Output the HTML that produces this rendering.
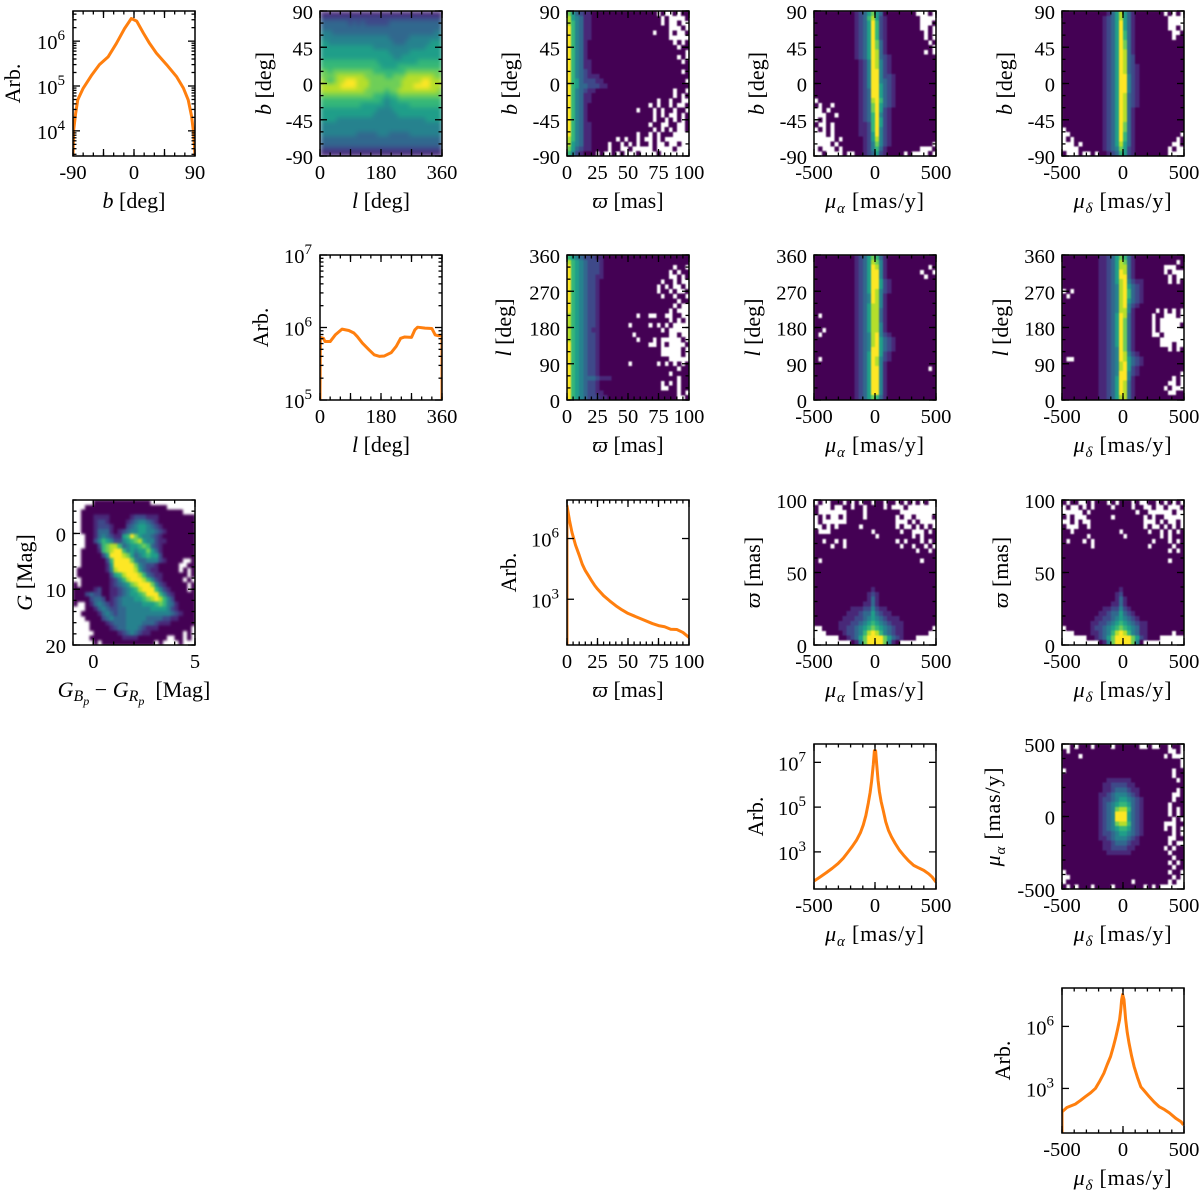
<!DOCTYPE html>
<html lang="en">
<head>
<meta charset="utf-8">
<title>Gaia corner plot</title>
<style>
html,body{margin:0;padding:0;background:#fff}
svg{display:block}
text{font-family:"Liberation Serif","DejaVu Serif",serif;font-size:20.5px;fill:#000}
</style>
</head>
<body>
<svg id="chart" xmlns="http://www.w3.org/2000/svg" width="1200" height="1197" viewBox="0 0 1200 1197"></svg>
<script>
// ---------- line series ----------
const arbLatX=[-90,-89,-86,-83,-75,-63,-51,-38,-26,-14,-4,4,14,23,33,48,63,73,80,85,88,90];
const arbLatY=[2.8e3,1.05e4,2.5e4,4.9e4,8.9e4,1.7e5,3e5,4.5e5,8.9e5,1.9e6,3.2e6,2.8e6,1.5e6,8.9e5,5.4e5,3e5,1.6e5,8.9e4,4.9e4,2.1e4,8.9e3,2.8e3];
const arbLonX=[0,1,10,15,30,45,65,85,100,110,125,145,160,175,190,210,225,238,250,270,280,288,310,330,340,350,360,360];
const arbLonY=[1e5,7.3e5,7.1e5,6.4e5,6.4e5,7.9e5,9.5e5,9.1e5,8.4e5,7.5e5,6.1e5,4.9e5,4.2e5,4.0e5,4.05e5,4.5e5,5.5e5,7.1e5,7.4e5,7.3e5,9.3e5,1.01e6,9.8e5,9.7e5,7.9e5,7.7e5,7.9e5,1e5];
const arbPlxX=[0,0,2,4,7,10,12.5,15,17.5,20,22.5,25,30,35,40,45,50,55,60,70,75,80,85,90,95,100];
const arbPlxY=[5,4.1e7,8.1e6,2.1e6,4.7e5,1.5e5,5.4e4,2.6e4,1.5e4,8.5e3,5e3,3.2e3,1.5e3,830,480,300,200,150,112,63,50,44,33,32,23,13];
const arbPmaX=[-500,-450,-400,-350,-303,-260,-220,-185,-152,-120,-96,-75,-55,-40,-28,-14,-5,5,14,25,36,50,69,88,110,135,165,200,234,275,317,360,400,440,468,500];
const arbPmaY=[50,76,117,186,300,525,1000,1800,3300,7100,1.6e4,4.2e4,1.5e5,4.5e5,1.4e6,7.9e6,3.3e7,3.3e7,7.9e6,1.6e6,5e5,1.8e5,6.5e4,2.2e4,9.3e3,4700,2400,1200,710,400,250,190,150,105,76,45];
const arbPmdX=[-500,-500,-460,-391,-350,-309,-265,-226,-190,-157,-130,-102,-80,-61,-45,-28,-18,-11,-3,8,15,22,35,50,70,91,118,146,180,215,255,298,340,380,435,477,496];
const arbPmdY=[5,74,120,174,260,400,620,1000,2300,5400,1.4e4,3.5e4,1e5,2.7e5,7e5,2.1e6,6.5e6,2e7,3.5e7,2e7,6.5e6,2.1e6,5e5,1.5e5,3.8e4,1.15e4,3.5e3,1200,700,400,220,129,95,66,35,24,17];

// ---------- heatmaps: rows top to bottom, '.' = empty bin, 0-9 = level ----------
const heatBL=[
"11111 11111 11111 11111 11111 11111","22222 22222 22222 22222 22222 22222",
"33333 33232 32222 22333 33333 33333","33333 33333 33333 33333 33333 33333",
"44433 33333 33333 33333 33333 33344","44444 44444 44444 44333 33444 44444",
"55444 44444 44444 44433 34444 44555","55555 55555 55544 44444 44444 45555",
"55555 55555 55555 55444 44555 55555","55555 55555 55555 55544 55555 55555",
"66666 66666 66665 55555 55556 66666","66666 66666 66666 55556 66666 66666",
"77677 77777 77766 66666 67777 77777","77778 88888 87777 76677 78888 88877",
"87678 89998 88777 77777 88888 99888","88888 99998 88777 77777 88899 99888",
"88888 88888 87777 76778 88888 88887","77777 77777 77766 65667 77777 77777",
"66666 66666 66666 54556 66666 66666","66666 66666 55555 54555 55666 66666",
"55555 55555 55554 44455 55555 55555","55555 55555 55544 44445 55555 55555",
"55554 44444 44444 44444 44444 45555","44444 44444 44444 44444 44444 44444",
"44444 44444 44444 44444 44444 44444","44444 44443 33334 44333 33444 44444",
"33333 33333 33333 33333 33333 33333","33333 33333 33333 33333 33333 33333",
"22222 22222 22222 22222 22222 22222","11111 11111 11111 11111 11111 11111"];
const heatBPlx=[
"75321 10000 00000 00000 00.0. .0.00","85431 10000 00000 00000 000.0 ....0",
"86431 10000 00000 00000 000.0 ..0..","96431 10000 00000 00000 00000 ...0.",
"96431 10000 00000 00000 0.000 .0..0","96431 10000 00000 00000 00000 .....",
"96431 00000 00000 00000 00000 0.0.0","96431 00000 00000 00000 00000 00.00",
"96431 00000 00000 00000 00000 0000.","96431 00000 00000 00000 00000 00.0.",
"96431 10000 00000 00000 00000 000.0","96431 10000 00000 00000 00000 00000",
"96432 10000 00000 00000 00000 000.0","96432 11100 00000 00000 00000 00000",
"96532 22110 00000 00000 00000 0000.","96533 22211 00000 00000 00000 00000",
"96432 11000 00000 00000 00000 0.00.","96431 10000 00000 00000 00000 0.0.0",
"96431 10000 00000 00000 00.00 .00..","96431 00000 00000 00000 .0.00 .0..0",
"96431 00000 00000 00.00 0.0.0 0.00.","96431 00000 00000 00000 0.0.0 ..0.0",
"96431 00000 00000 00000 0.00. 0.0.0","96431 10000 00000 00000 .00.. 00..0",
"96431 10000 00000 00000 0.0.0 .0..0","96431 10000 00000 00.00 .0.00 0....",
"86431 10000 00.0. 00.0. .0.0. .....","85431 10000 .00.0 .0.00 .0..0 ..0..",
"75321 10000 .00.. 0.... .0... .0...","64210 00.0. .0.0. ..0.. ..0.. ....."];
const heatBPma=[
"00000 00000 12357 53000 00000 ...0.","00000 00000 12368 52100 00000 0....",
"00000 00000 12359 62100 00000 0...0","00000 00000 12359 62100 00000 0..0.",
"00000 00000 12359 62100 00000 00.0.","00000 00000 12359 62100 00000 00.0.",
"00000 00000 12359 73100 00000 000.0","00000 00000 12359 73100 00000 0000.",
"00000 00000 12359 83100 00000 00.0.","00000 00000 12359 83210 00000 00000",
"00000 00000 01249 84210 00000 00000","00000 00000 01249 84210 00000 00000",
"00000 00000 01249 94210 00000 00000","00000 00000 01249 94221 00000 00000",
"00000 00000 01249 94321 00000 00000","00000 00000 01249 95321 00000 00000",
"00000 00000 01239 95321 00000 00000","00000 00000 01239 95321 00000 00000",
".0000 00000 01238 96321 00000 00000","0.00. 00000 01237 95321 00000 00000",
"..0.0 00000 01237 95210 00000 00000","...00 .0000 01236 94210 00000 00000",
".0.00 00000 01236 95210 00000 00000","0..0. 00000 01126 95210 00000 00000",
".0.0. 00000 01126 94210 00000 00000","...0. 00000 01125 94210 00000 00000",
"..... 0.000 00125 84210 00000 00000","....0 .0000 00124 74210 00000 0000.",
".0... 0.000 00124 63100 00000 0...0","..0.. ..0.. 00123 52100 00.0. ...0."];
const heatBPmd=[
"00000 00000 01358 53100 00000 .0.0.","00000 00000 12358 53100 00000 0....",
"00000 00000 12359 53100 00000 0....","00000 00000 12359 53100 00000 0..0.",
"00000 00000 12359 63100 00000 00..0","00000 00000 12359 63100 00000 00.00",
"00000 00000 12359 73100 00000 00000","00000 00000 12359 73100 00000 00000",
"00000 00000 12359 83100 00000 00000","00000 00000 12359 83200 00000 00000",
"00000 00000 12359 83200 00000 00000","00000 00000 12359 83210 00000 00000",
"00000 00000 12359 83210 00000 00000","00000 00000 12359 94210 00000 00000",
"00000 00000 12359 94210 00000 00000","00000 00000 12359 94210 00000 00000",
"00000 00000 12359 94210 00000 00000","00000 00000 12359 83210 00000 00000",
"00000 00000 12359 83210 00000 00000","00000 00000 12359 83210 00000 00000",
"00000 00000 12359 83100 00000 00000","00000 00000 12359 83100 00000 00000",
"00000 00000 12359 83100 00000 00000","00000 00000 12359 73100 00000 00000",
".0000 00000 12359 73100 00000 00000","..000 00000 12359 63100 00000 0000.",
".0.00 00000 12359 63100 00000 000.0","...0. 00000 12358 53100 00000 00..0",
"....0 00000 12347 52100 00000 0.0..","0...0 ..0.0 01236 52100 00000 0...."];
const heatLPlx=[
"65432 22110 00000 00000 00000 00000","86543 22210 00000 00000 00000 00000",
"96543 22210 00000 00000 00000 0.00.","96543 22210 00000 00000 00000 .0.00",
"96543 22110 00000 00000 00000 ..0.0","96543 22100 00000 00000 000.0 0.0..",
"96543 22100 00000 00000 00.0. 0..0.","96543 22100 00000 00000 00.00 .0..0",
"96543 22100 00000 00000 000.0 0.00.","96543 22100 00000 00000 00000 00.00",
"96543 22100 00000 00000 00000 0.0..","96543 22100 00000 00000 00000 .0...",
"86543 22100 00000 00.00 ..00. .00..","86543 22100 00000 00000 00000 .0.0.",
"86543 22100 00000 .0000 .0.0. 0....","86543 21100 00000 00000 000.0 .....",
"86543 22100 00000 0.000 00000 ..0..","86543 22100 00000 00.00 0.0.. ...0.",
"96543 22100 00000 00000 ..0.0 ....0","96543 22100 00000 00000 000.. ...0.",
"96543 22100 00000 00000 000.. ...0.","96543 22100 00000 00000 00000 .....",
"96543 22100 00000 .0000 00.0. 0.0.0","96543 22100 00000 00000 00000 00.00",
"96543 22100 00000 00000 00000 .0000","96543 33211 10000 00000 00000 00.00",
"96543 22100 00000 00000 000.0 .0.00","96543 22100 00000 00000 000.. 00.00",
"96543 22110 00000 00000 00000 00.0.","96543 22211 00000 00000 00000 00..0"];
const heatLPma=[
"00000 00000 12357 63100 00000 00000","00000 00000 12358 74100 00000 00000",
"00000 00000 12359 84100 00000 000.0","00000 00000 12359 94100 00000 0.00.",
"00000 00000 12359 94100 00000 00.00","00000 00000 12359 95210 00000 00000",
"00000 00000 12359 95210 00000 00000","00000 00000 12359 84210 00000 00000",
"00000 00000 12349 84100 00000 00000","00000 00000 12349 84100 00000 00000",
"00000 00000 12358 84100 00000 00000","00000 00000 12358 83100 00000 00000",
"0.000 00000 12358 83100 00000 00000","00000 00000 12358 83100 00000 00000",
"00000 00000 12358 84100 00000 00000","00.00 00000 12358 84100 00000 00000",
"0.000 00000 12348 94210 00000 00000","00000 00000 12348 95321 00000 00000",
"00000 00000 12348 95321 00000 00000","00000 00000 12349 95321 00000 00000",
"00000 00000 12359 95210 00000 00000","0.000 00000 12359 84210 00000 00000",
"00000 00000 12359 84100 00000 00000","00000 00000 12359 94100 00000 000.0",
"00000 00000 12359 94100 00000 00000","00000 00000 12359 94100 00000 00000",
"00000 00000 12359 94100 00000 00000","00000 00000 12359 94100 00000 00000",
"00000 00000 12359 94100 00000 00000","00000 00000 12357 63100 00000 00000"];
const heatLPmd=[
"00000 00001 12357 63100 00000 00000","00000 00001 12358 73100 00000 000.0",
"00000 00001 12358 83100 00000 ...00","00000 00001 12359 83100 00000 .0...",
"00000 00001 12359 93100 00000 0.0..","00000 00001 12358 94211 00000 0.0.0",
"00000 00001 12348 95321 00000 00000",".0.00 00001 12348 96321 00000 00000",
"0.000 00001 12348 96321 00000 00000","00000 00001 12348 95321 00000 00000",
"00000 00001 12348 94210 00000 00000","00000 00001 12348 84100 000.0 .0.0.",
"00000 00001 12359 83100 00.00 ...0.","00000 00001 12359 73100 00.0. .....",
"00000 00001 12359 73100 00.0. ....0","00000 00001 12359 73100 00.0. .....",
"00000 00001 12359 73100 00..0 .....","00000 00001 12359 73100 0000. .....",
"00000 00001 12359 73100 0000. ..0..","00000 00001 12349 73100 00000 0.0.0",
"00000 00001 12349 84210 00000 00000","0..00 00001 12349 85321 00000 00000",
"00000 00001 12348 95321 00000 00000","00000 00001 12348 95210 00000 00000",
"00000 00001 12349 94210 00000 0000.","00000 00001 12359 94100 00000 00.0.",
"00000 00001 12359 83100 00000 0..0.","00000 00001 12359 83100 00000 .0...",
"00000 00001 12359 83100 00000 0..00","00000 00001 12358 83100 00000 00000"];
const heatGColor=[
"..... 00000 00000 0000. ..... .....","...00 00000 00000 00000 000.. .....",
"..000 00000 00000 00000 00000 00...","..000 11110 00001 22211 10000 00000",
"..000 12210 00012 34432 10000 00000","..000 12221 00023 45543 21000 00000",
"..000 13331 01234 45544 32100 00000","...00 13432 11569 75443 21000 00000",
"...00 24654 22456 78544 21100 00000","...00 02678 86345 56763 21000 00000",
"..000 01678 99645 45575 31000 00000","..000 00259 99875 34565 52000 00000",
"..000 00026 99997 43344 42100 00..0","..000 00015 99999 74322 10000 0..00",
".0000 00014 89999 85321 10000 0.0.0",".0000 00002 56899 98632 11000 000.0",
"..000 00001 24689 99864 21000 00.0.","0.000 00001 23457 89997 42100 000.0",
"00000 12001 12345 68999 64210 000.0","00023 22001 12345 56799 96421 00000",
"00002 33201 23444 55678 98642 00000","0..01 34321 23444 44555 67643 10000",
"...00 13432 23344 44445 55542 10000","..000 01343 23344 44444 44443 21000",
"...00 00234 33344 44433 33221 10000","....0 00012 33344 44333 21110 00000",
"....0 00001 23344 43211 10000 0000.","..... 00000 01234 32110 00000 00.0.",
"....0 00000 00111 10000 000.. 00.0.","..... 0.000 00000 00000 .0... .0..."];
const heatPlxPma=[
".0..0 00.0. 0.00. 00.00 .0.0. 0.0..","0...0 ..00. 00.00 00.0. ..0.. .....",
"0.... ...00 00.00 00000 0.... .....",".0.0. .0.00 00.00 00000 .0..0 ....0",
".0... ...00 00000 00000 ...0. 0....","..0.0 .0000 0.000 00000 .0..0 .0.0.",
"0...0 00000 0000. 00000 0.00. ..0.0","00000 00000 00000 .0000 0000. 0.000",
"00.00 .0.00 00000 00000 .0.00 0.0.0","0000. 00.00 00000 00000 0.00. 00.0.",
"00000 00000 00000 00000 00000 .00.0","00000 00000 00000 00000 00000 00000",
"0.000 00000 00000 00000 00000 0.000","00000 00000 00000 00000 00000 00000",
"00000 00000 00000 00000 00000 00000","00000 00000 00000 00000 00000 00000",
"00000 00000 00000 00000 00000 00000","00000 00000 00000 00000 00000 00000",
"00000 00000 00001 00000 00000 00000","00000 00000 00012 10000 00000 00000",
"00000 00000 00013 10000 00000 00000","00000 00000 00113 10000 00000 00000",
"00000 00001 11224 21100 00000 00000","00000 00011 12335 32110 00000 00000",
"00000 00111 22345 43211 10000 00000","00000 01112 23456 54321 11000 00000",
"..000 01122 34567 65432 11000 0000.","...00 00122 34689 86432 11000 000..",
"..... .0012 35799 99753 21000 .....","..... ....0 14799 99741 0.... ....."];
const heatPlxPmd=[
"0.00. .0.00 0.0.0 00.0. .00.0 .0.0.",".0..0 .0.00 00.00 00.00 ..0.. 0...0",
"..... 0.000 00000 000.0 0.... ..0..","0.0.. .0000 00.00 00000 .0.00 .....",
"..0.0 ..000 00000 00000 ...0. 0..0.","0...0 0.000 00000 00000 .0..0 .0.0.",
"00.00 00000 0000. 00000 0.00. 0.0.0","00000 0.000 00000 .0000 0000. 0.000",
"0.000 .0.00 00000 00000 00.00 0.0.0","00000 00.00 00000 00000 0.000 00.00",
"00000 00000 00000 00000 00000 0.0.0","00000 00000 00000 00000 00000 00000",
"00000 00000 00000 00000 00000 0.000","00000 00000 00000 00000 00000 00000",
"00000 00000 00000 00000 00000 00000","00000 00000 00000 00000 00000 00000",
"00000 00000 00000 00000 00000 00000","00000 00000 00000 00000 00000 00000",
"00000 00000 00001 00000 00000 00000","00000 00000 00012 00000 00000 00000",
"00000 00000 00013 10000 00000 00000","00000 00000 00113 10000 00000 00000",
"00000 00000 11224 21000 00000 00000","00000 00001 12335 32100 00000 00000",
"00000 00011 22345 43210 00000 00000","00000 00112 23456 54321 10000 00000",
".0000 00122 34567 65431 10000 00000","...00 00112 34689 86431 10000 00.00",
"..... .0012 35799 99752 1000. .....","..... ....0 14799 99740 ..... ....."];
const heatPmaPmd=[
"..0.0 00.00 00.00 0000. .0..0 0.00.","0.000 00000 00000 00000 00000 0..0.",
"0000. 00000 00000 00000 00000 .0...","00000 00000 00000 00000 00000 0000.",
"00000 00000 00000 00000 00000 0000.",".0000 00000 00000 00000 00000 00.00",
"00000 00000 00000 00000 00000 00.00","00000 00000 01111 11000 00000 000.0",
"00000 00000 11222 21100 00000 00000","00000 00000 11233 32110 00000 000.0",
"00000 00001 12344 43210 00000 00..0","00000 00001 22345 54321 00000 00.00",
"00000 00001 23456 65321 00000 0.000","00000 00001 23478 86321 00000 0.0.0",
"00000 00001 23499 95321 00000 0.0.0","00000 00001 23499 95321 00000 00.0.",
"00000 00001 23478 86321 00000 ...00","00000 00001 23456 65321 00000 .0.0.",
"00000 00001 22345 54321 00000 00.0.","00000 00001 12344 43210 00000 0..00",
"00000 00000 11233 32110 00000 0.0..","00000 00000 11222 21100 00000 .0.00",
"00000 00000 01111 11000 00000 0.000","00000 00000 00000 00000 00000 00.00",
"00000 00000 00000 00000 00000 0.0.0","00000 00000 00000 00000 00000 00.00",
".0000 00000 00000 00000 00000 0.00.","..000 00000 00000 00000 00000 00.0.",
".0000 00000 00000 00.00 00000 0.0..","0.0.0 00.00 00.00 00000 .0.0. ....."];

// ---------- tick labels ----------
const ticksLat=[-90,0,90];
const ticksLatY=[-90,-45,0,45,90];
const ticksLon=[0,180,360];
const ticksLonY=[0,90,180,270,360];
const ticksPlxX=[0,25,50,75,100];
const ticksPlxY=[0,50,100];
const ticksPm=[-500,0,500];
const ticksColor=[0,5];
const ticksMag=[0,10,20];

// ---------- colour levels ----------
const viridis=["#440154","#482878","#3e4989","#31688e","#26828e","#1f9e89","#35b779","#6ece58","#b5de2b","#fde725"];

// ---------- axis label text ----------
const lbLat=[["b","i"],[" [deg]",""]];
const lbLon=[["l","i"],[" [deg]",""]];
const lbPlx=[["ϖ","i"],[" [mas]",""]];
const lbPma=[["μ","i"],["α","sub"],[" [mas/y]",""]];
const lbPmd=[["μ","i"],["δ","sub"],[" [mas/y]",""]];
const lbArb=[["Arb.",""]];
const lbG=[["G","i"],[" [Mag]",""]];
const lbColor=[["G","i"],["B","subi"],["p","subsub"],[" − ",""],["G","i"],["R","subi"],["p","subsub"],["  [Mag]",""]];

const axLat={dom:[-90,90],major:45,minor:15,labels:ticksLat,title:lbLat};
const axLatY={dom:[-90,90],major:45,minor:15,labels:ticksLatY,title:lbLat};
const axLon={dom:[0,360],major:90,minor:30,labels:ticksLon,title:lbLon};
const axLonY={dom:[0,360],major:90,minor:30,labels:ticksLonY,title:lbLon};
const axPlx={dom:[0,100],major:25,minor:5,labels:ticksPlxX,title:lbPlx};
const axPlxY={dom:[0,100],major:50,minor:10,labels:ticksPlxY,title:lbPlx};
const axPma={dom:[-500,500],major:500,minor:100,labels:ticksPm,title:lbPma,spacing:0.8};
const axPmd={dom:[-500,500],major:500,minor:100,labels:ticksPm,title:lbPmd,spacing:0.8};
const axColor={dom:[-1,5],major:5,minor:1,labels:ticksColor,title:lbColor};
const axMag={dom:[20,-6],major:10,minor:2,labels:ticksMag,title:lbG};
function logAxis(lo,hi,decades,minors){return {log:true,dom:[lo,hi],decades:decades,minors:minors,title:lbArb};}

const colLeft=[73,320,567,814,1062];
const rowTop=[11,255,500,744,988];
const W=122,H=145;
const svg=document.getElementById('chart');
const NS='http://www.w3.org/2000/svg';

function mk(parent,tag,attrs){
  const e=document.createElementNS(NS,tag);
  for(const k in attrs)e.setAttribute(k,attrs[k]);
  parent.appendChild(e);
  return e;
}
function runs(t,list,base){
  let off=0;
  list.forEach(function(r){
    const s=mk(t,'tspan',{});
    
    
    let target=0,size=base;
    if(r[1]==='i'){s.setAttribute('font-style','italic');}
    if(r[1]==='sub'){target=5;size=15;s.setAttribute('font-style','italic');}
    if(r[1]==='subi'){target=4;size=16;s.setAttribute('font-style','italic');}
    if(r[1]==='subsub'){target=8;size=12;s.setAttribute('font-style','italic');}
    if(target!==off)s.setAttribute('dy',target-off);
    off=target;
    s.setAttribute('font-size',size);
    s.style.whiteSpace='pre';
    s.textContent=r[0];
  });
}
function scaleOf(ax,p0,p1){
  if(ax.log){
    const a=Math.log10(ax.dom[0]),b=Math.log10(ax.dom[1]);
    return function(v){return p0+(Math.log10(v)-a)/(b-a)*(p1-p0);};
  }
  return function(v){return p0+(v-ax.dom[0])/(ax.dom[1]-ax.dom[0])*(p1-p0);};
}
function linearTicks(ax,step){
  const lo=Math.min(ax.dom[0],ax.dom[1]),hi=Math.max(ax.dom[0],ax.dom[1]),out=[];
  for(let k=Math.ceil(lo/step-1e-9);k*step<=hi+1e-9;k++)out.push(k*step);
  return out;
}
function panel(o){
  const left=colLeft[o.col],top=rowTop[o.row],right=left+W,bottom=top+H;
  const g=mk(svg,'g',{});
  
  
  const sx=scaleOf(o.x,left,right),sy=scaleOf(o.y,bottom,top);
  const clipId='clip-'+o.name;
  const cp=mk(g,'clipPath',{id:clipId});
  mk(cp,'rect',{x:left,y:top,width:W,height:H});

  if(o.heat){
    const rows=o.heat.map(function(r){return r.replace(/ /g,'');});
    const nr=rows.length;
    const fid='soft-'+o.name;
    const f=mk(g,'filter',{id:fid,filterUnits:'userSpaceOnUse',x:left,y:top,width:W,height:H,'color-interpolation-filters':'sRGB'});
    mk(f,'feGaussianBlur',{stdDeviation:o.blur||0.8,edgeMode:'duplicate'});
    const outer=mk(g,'g',{'clip-path':'url(#'+clipId+')'});
    
    
    const hg=mk(outer,'g',{'shape-rendering':'crispEdges',filter:'url(#'+fid+')'});
    
    
    rows.forEach(function(row,i){
      const nc=30;
      for(let j=0;j<nc;j++){
        const ch=row.charAt(j);
        if(ch==='.'||ch==='')continue;
        const fx0=o.x.dom[0]+(o.x.dom[1]-o.x.dom[0])*j/nc;
        const fx1=o.x.dom[0]+(o.x.dom[1]-o.x.dom[0])*(j+1)/nc;
        const fy0=o.y.dom[1]+(o.y.dom[0]-o.y.dom[1])*i/nr;
        const fy1=o.y.dom[1]+(o.y.dom[0]-o.y.dom[1])*(i+1)/nr;
        const c=mk(hg,'rect',{x:sx(fx0),y:sy(fy0),width:sx(fx1)-sx(fx0)+0.4,height:sy(fy1)-sy(fy0)+0.4,fill:viridis[+ch]});
        
        
      }
    });
  }
  if(o.lineX){
    const pts=o.lineX.map(function(v,i){return sx(v).toFixed(2)+','+sy(o.lineY[i]).toFixed(2);}).join(' ');
    const pl=mk(g,'polyline',{points:pts,fill:'none',stroke:'#ff7f0e','stroke-width':3,'stroke-linejoin':'round','clip-path':'url(#'+clipId+')'});
    
    
  }

  // ticks
  const tg=mk(g,'g',{stroke:'#000','stroke-width':1.3,fill:'none'});
  
  
  function xTick(v,len){
    const p=sx(v);
    mk(tg,'line',{x1:p,x2:p,y1:bottom,y2:bottom-len});
    mk(tg,'line',{x1:p,x2:p,y1:top,y2:top+len});
  }
  function yTick(v,len){
    const p=sy(v);
    mk(tg,'line',{x1:left,x2:left+len,y1:p,y2:p});
    mk(tg,'line',{x1:right,x2:right-len,y1:p,y2:p});
  }
  linearTicks(o.x,o.x.minor).forEach(function(v){xTick(v,3.5);});
  linearTicks(o.x,o.x.major).forEach(function(v){xTick(v,7);});
  if(o.y.log){
    o.y.decades.forEach(function(d){yTick(Math.pow(10,d),7);});
    if(o.y.minors){
      const lo=Math.floor(Math.log10(o.y.dom[0])),hi=Math.ceil(Math.log10(o.y.dom[1]));
      for(let d=lo;d<hi;d++)for(let m=2;m<10;m++){
        const v=m*Math.pow(10,d);
        if(v>=o.y.dom[0]&&v<=o.y.dom[1])yTick(v,3.5);
      }
    }
  }else{
    linearTicks(o.y,o.y.minor).forEach(function(v){yTick(v,3.5);});
    linearTicks(o.y,o.y.major).forEach(function(v){yTick(v,7);});
  }
  const spine=mk(g,'rect',{x:left,y:top,width:W,height:H,fill:'none',stroke:'#000','stroke-width':1.5});
  
  

  // tick labels
  o.x.labels.forEach(function(v){
    const t=mk(g,'text',{x:sx(v),y:bottom+23,'text-anchor':'middle'});
    
    
    t.textContent=String(v);
  });
  if(o.y.log){
    o.y.decades.forEach(function(d){
      const t=mk(g,'text',{x:left-8,y:sy(Math.pow(10,d))+8,'text-anchor':'end'});
      
      
      const a=mk(t,'tspan',{});
      
      
      a.textContent='10';
      const b=mk(t,'tspan',{dy:-9,'font-size':15});
      
      
      b.textContent=String(d);
    });
  }else{
    o.y.labels.forEach(function(v){
      const t=mk(g,'text',{x:left-7,y:sy(v)+8,'text-anchor':'end'});
      
      
      t.textContent=String(v);
    });
  }

  // axis titles
  const xt=mk(g,'text',{x:left+W/2+(o.xShift||0),y:bottom+(o.xTitleY||52),'text-anchor':'middle','font-size':22});
  
  
  if(o.x.spacing)xt.setAttribute('letter-spacing',o.x.spacing);
  runs(xt,o.x.title,22);
  const yx=left-o.yTitle,yy=top+H/2;
  const yt=mk(g,'text',{x:yx,y:yy,'text-anchor':'middle','font-size':22,transform:'rotate(-90 '+yx+' '+yy+')'});
  
  
  if(o.y.spacing)yt.setAttribute('letter-spacing',o.y.spacing);
  runs(yt,o.y.title,22);
}

panel({name:'hist-latitude',col:0,row:0,x:axLat,y:logAxis(2.75e3,4.7e6,[4,5,6],true),lineX:arbLatX,lineY:arbLatY,yTitle:53});
panel({name:'heat-lat-vs-lon',col:1,row:0,x:axLon,y:axLatY,heat:heatBL,blur:2.4,yTitle:49});
panel({name:'heat-lat-vs-parallax',col:2,row:0,x:axPlx,y:axLatY,heat:heatBPlx,yTitle:50});
panel({name:'heat-lat-vs-pmra',col:3,row:0,x:axPma,y:axLatY,heat:heatBPma,yTitle:50});
panel({name:'heat-lat-vs-pmdec',col:4,row:0,x:axPmd,y:axLatY,heat:heatBPmd,yTitle:50});

panel({name:'hist-longitude',col:1,row:1,x:axLon,y:logAxis(1e5,1e7,[5,6,7],true),lineX:arbLonX,lineY:arbLonY,yTitle:52});
panel({name:'heat-lon-vs-parallax',col:2,row:1,x:axPlx,y:axLonY,heat:heatLPlx,yTitle:56});
panel({name:'heat-lon-vs-pmra',col:3,row:1,x:axPma,y:axLonY,heat:heatLPma,yTitle:54});
panel({name:'heat-lon-vs-pmdec',col:4,row:1,x:axPmd,y:axLonY,heat:heatLPmd,yTitle:54});

panel({name:'heat-hr-diagram',col:0,row:2,x:axColor,y:axMag,heat:heatGColor,blur:1.2,yTitle:41,xTitleY:52});
panel({name:'hist-parallax',col:2,row:2,x:axPlx,y:logAxis(5.5,8e7,[3,6]),lineX:arbPlxX,lineY:arbPlxY,yTitle:51});
panel({name:'heat-parallax-vs-pmra',col:3,row:2,x:axPma,y:axPlxY,heat:heatPlxPma,yTitle:54});
panel({name:'heat-parallax-vs-pmdec',col:4,row:2,x:axPmd,y:axPlxY,heat:heatPlxPmd,yTitle:54});

panel({name:'hist-pmra',col:3,row:3,x:axPma,y:logAxis(22,6.6e7,[3,5,7]),lineX:arbPmaX,lineY:arbPmaY,yTitle:51});
panel({name:'heat-pmra-vs-pmdec',col:4,row:3,x:axPmd,y:{dom:[-500,500],major:500,minor:100,labels:ticksPm,title:lbPma,spacing:0.8},heat:heatPmaPmd,blur:0.9,yTitle:62});

panel({name:'hist-pmdec',col:4,row:4,x:axPmd,y:logAxis(7,7.2e7,[3,6]),lineX:arbPmdX,lineY:arbPmdY,yTitle:52});
</script>
</body>
</html>
